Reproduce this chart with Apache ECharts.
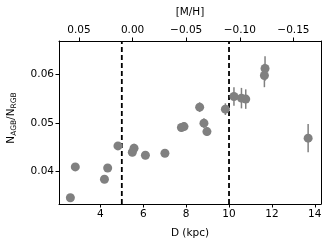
<!DOCTYPE html>
<html><head><meta charset="utf-8">
<script src="https://cdn.jsdelivr.net/npm/echarts@6/dist/echarts.min.js"></script>
<style>html,body{margin:0;padding:0;background:#fff}#c{width:333px;height:248px}</style>
</head><body><div id="c"></div>
<script>
var distances = [2.60, 2.83, 4.19, 4.34, 4.82, 5.49, 5.57, 6.10, 7.01, 7.78, 7.90, 8.63, 8.83, 8.97, 9.83, 10.23, 10.58, 10.78, 11.65, 11.68, 13.69];
var ratios    = [0.03466, 0.04097, 0.03844, 0.04076, 0.04528, 0.04398, 0.04480, 0.04337, 0.04378, 0.04904, 0.04924, 0.05322, 0.04994, 0.04821, 0.05281, 0.05540, 0.05507, 0.05487, 0.05971, 0.06115, 0.04686];
var errors    = [0.0003, 0.0004, 0.0007, 0.0005, 0.0008, 0.0008, 0.0009, 0.0008, 0.0007, 0.0009, 0.0009, 0.0010, 0.0010, 0.0009, 0.0012, 0.0019, 0.0021, 0.0020, 0.0024, 0.0025, 0.0029];
var dashedD = [5, 10];
var xTicks = [4, 6, 8, 10, 12, 14];
var yTicks = [0.04, 0.05, 0.06];
var mhTicks = [0.05, 0.00, -0.05, -0.10, -0.15];

var xMin = 2.07, xMax = 14.29, yMin = 0.03337, yMax = 0.06678, mhMin = -0.1757, mhMax = 0.0686;
var grey = '#808080';
var font = 'DejaVu Sans';

function fmtMH(v){ var s = Math.abs(v).toFixed(2); return (v < -1e-9 ? '\u2212' : '') + s; }

var chart = echarts.init(document.getElementById('c'), null, {renderer:'canvas'});
var axisCommon = {
  axisLine:{show:true, onZero:false, lineStyle:{color:'#000', width:1}},
  splitLine:{show:false}
};
var pts = distances.map(function(d,i){ return [d, ratios[i], errors[i]]; });
var dashSeries = dashedD.map(function(d){
  return {type:'line', xAxisIndex:0, yAxisIndex:0, data:[[d,yMin],[d,yMax]], symbol:'none', silent:true,
    lineStyle:{color:'#000', width:1.8, type:[5,3]}, z:1};
});
chart.setOption({
  animation:false,
  grid:{left:59, top:41, right:12, bottom:44, containLabel:false},
  xAxis:[
    Object.assign({}, axisCommon, {type:'value', position:'bottom', min:xMin, max:xMax,
      name:'D (kpc)', nameLocation:'middle', nameGap:24,
      nameTextStyle:{fontFamily:font, fontSize:10.5, color:'#000'},
      axisTick:{show:true, inside:false, length:3.5, lineStyle:{color:'#000'}, customValues:xTicks},
      axisLabel:{fontFamily:font, fontSize:10.5, color:'#000', margin:5, customValues:xTicks, formatter:function(v){return String(Math.round(v));}}}),
    Object.assign({}, axisCommon, {type:'value', position:'top', min:mhMin, max:mhMax, inverse:true,
      name:'[M/H]', nameLocation:'middle', nameGap:23,
      nameTextStyle:{fontFamily:font, fontSize:10.5, color:'#000'},
      axisTick:{show:true, inside:false, length:3.5, lineStyle:{color:'#000'}, customValues:mhTicks},
      axisLabel:{fontFamily:font, fontSize:10.5, color:'#000', margin:5, customValues:mhTicks, formatter:fmtMH}})
  ],
  yAxis:[
    Object.assign({}, axisCommon, {type:'value', position:'left', min:yMin, max:yMax,
      axisTick:{show:true, inside:false, length:3.5, lineStyle:{color:'#000'}, customValues:yTicks},
      axisLabel:{fontFamily:font, fontSize:10.5, color:'#000', margin:5, customValues:yTicks, formatter:function(v){return v.toFixed(2);}}}),
    Object.assign({}, axisCommon, {type:'value', position:'right', min:yMin, max:yMax,
      axisTick:{show:false}, axisLabel:{show:false}})
  ],
  graphic:[{
    type:'text', rotation:Math.PI/2, x:11, y:118,
    style:{
      text:'{a|N}{s|AGB}{a|/N}{s|RGB}',
      rich:{a:{fontFamily:font, fontSize:10.5, fill:'#000', lineHeight:14},
            s:{fontFamily:font, fontSize:7.5, fill:'#000', verticalAlign:'bottom', lineHeight:14, padding:[4,0,0,0]}},
      align:'center', verticalAlign:'middle'
    }
  }],
  series: dashSeries.concat([
    {type:'custom', xAxisIndex:0, yAxisIndex:0, data:pts, z:2,
      renderItem:function(params, api){
        var x = api.value(0), y = api.value(1), e = api.value(2);
        var p1 = api.coord([x, y - e]), p2 = api.coord([x, y + e]);
        return {type:'line', shape:{x1:p1[0], y1:p1[1], x2:p2[0], y2:p2[1]}, style:{stroke:grey, lineWidth:1.5}};
      }},
    {type:'scatter', xAxisIndex:0, yAxisIndex:0, data:pts, symbol:'circle', symbolSize:9,
      itemStyle:{color:grey, opacity:1}, z:3}
  ])
});
</script></body></html>
